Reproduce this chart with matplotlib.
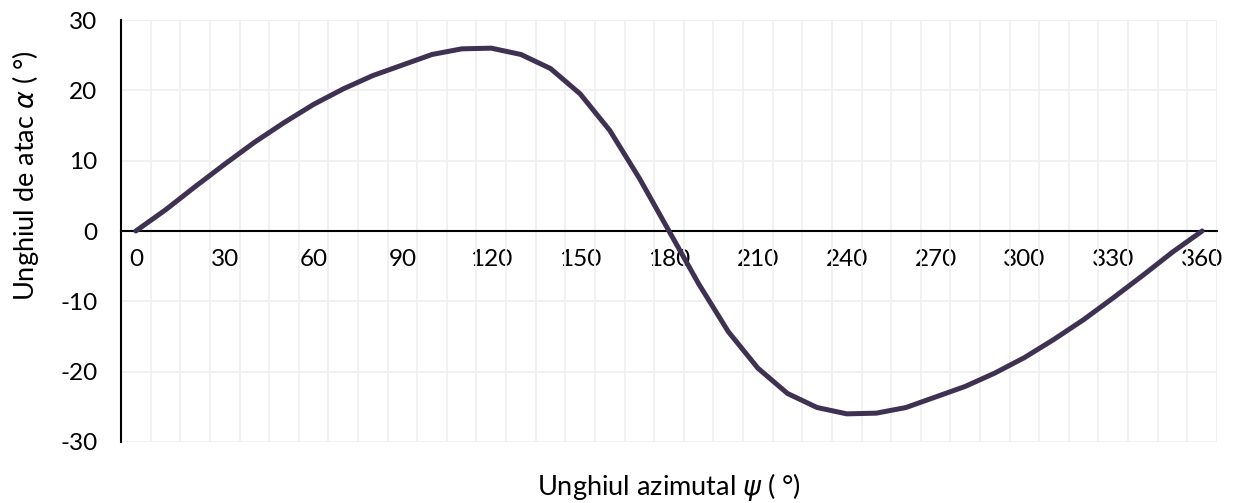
import matplotlib
matplotlib.use('Agg')
import matplotlib.pyplot as plt
import numpy as np

# azimuth angle (deg) and angle of attack (deg)
psi = list(range(0, 361, 10))
alpha = [0.0, 3.0, 6.3, 9.5, 12.6, 15.4, 18.0, 20.2, 22.1, 23.6,
         25.1, 25.9, 26.0, 25.1, 23.1, 19.5, 14.3, 7.5, 0.0,
         -7.5, -14.3, -19.5, -23.1, -25.1, -26.0, -25.9, -25.1, -23.6,
         -22.1, -20.2, -18.0, -15.4, -12.6, -9.5, -6.3, -3.0, 0.0]

xticks = list(range(0, 361, 30))
yticks = [-30, -20, -10, 0, 10, 20, 30]

plt.rcParams['font.family'] = ['Lato', 'DejaVu Sans']
plt.rcParams['font.size'] = 17.5
plt.rcParams['mathtext.fontset'] = 'dejavusans'
plt.rcParams['axes.unicode_minus'] = False

fig = plt.figure(figsize=(12.35, 5.03), dpi=100)
ax = fig.add_axes([0.098, 0.1213, 0.8874, 0.8389])

ax.plot(psi, alpha, color='#3f3151', lw=3.6, solid_joinstyle='round',
        solid_capstyle='round', zorder=3)

ax.set_xlim(-5, 365)
ax.set_ylim(-30, 30)

# category-style grid: lines between the points
ax.set_xticks(np.arange(-5, 366, 10), minor=True)
ax.set_xticks(xticks)
ax.set_yticks(yticks)
ax.grid(which='minor', axis='x', color='#f0f0f0', lw=1.3)
ax.grid(which='major', axis='y', color='#f0f0f0', lw=1.3)
ax.set_axisbelow(True)

ax.spines['bottom'].set_position(('data', 0))
ax.spines['bottom'].set_linewidth(1.5)
ax.spines['left'].set_linewidth(1.5)
ax.spines['top'].set_visible(False)
ax.spines['right'].set_visible(False)
ax.tick_params(axis='x', which='both', length=0, pad=13)
ax.tick_params(axis='y', length=0, pad=17)

ax.set_xlabel(r'Unghiul azimutal $\psi$ ( °)', va='center', fontsize=19.5)
ax.xaxis.set_label_coords(0.5, -0.107)
ax.set_ylabel(r'Unghiul de atac $\alpha$ ( °)', va='center', fontsize=19.5)
ax.yaxis.set_label_coords(-0.0876, 0.63)

fig.savefig('out.png', dpi=100)
